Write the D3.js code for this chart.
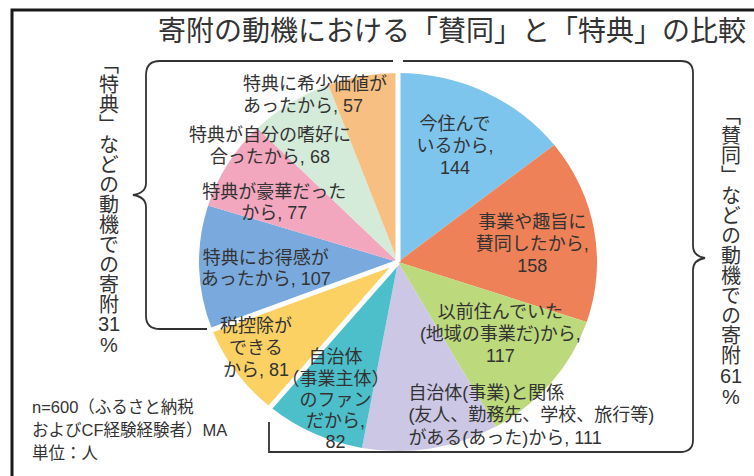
<!DOCTYPE html>
<html><head><meta charset="utf-8">
<script src="https://cdn.jsdelivr.net/npm/d3@7"></script>
<style>
html,body{margin:0;padding:0;background:#fff;}
svg{display:block;}
text{font-family:"Liberation Sans","Noto Sans CJK JP",sans-serif;fill:#333;}
</style></head>
<body>
<svg id="chart" width="754" height="476"></svg>
<script>
// ---- data ----
const categories = [
  "今住んでいるから",
  "事業や趣旨に賛同したから",
  "以前住んでいた(地域の事業だ)から",
  "自治体(事業)と関係(友人、勤務先、学校、旅行等)がある(あった)から",
  "自治体（事業主体）のファンだから",
  "税控除ができるから",
  "特典にお得感があったから",
  "特典が豪華だったから",
  "特典が自分の嗜好に合ったから",
  "特典に希少価値があったから"
];
const values = [144, 158, 117, 111, 82, 81, 107, 77, 68, 57];
const labelTemplates = [
  "今住んで|いるから,|{v}",
  "事業や趣旨に|賛同したから,|{v}",
  "以前住んでいた|(地域の事業だ)から,|{v}",
  "自治体(事業)と関係|(友人、勤務先、学校、旅行等)|がある(あった)から, {v}",
  "自治体|（事業主体）|のファン|だから,|{v}",
  "税控除が|できる|から, {v}",
  "特典にお得感が|あったから, {v}",
  "特典が豪華だった|から, {v}",
  "特典が自分の嗜好に|合ったから, {v}",
  "特典に希少価値が|あったから, {v}"
];
const colors = ["#7dc5ec","#ee8158","#bcd97c","#cbc7e4","#4dbfcb","#fcd164","#7aaadd","#f3a7bf","#d4ebda","#f7bf82"];
// group membership: 0 = 賛同, 1 = 税控除, 2 = 特典
const groups = [0,0,0,0,0,1,2,2,2,2];
const titleText = "寄附の動機における「賛同」と「特典」の比較";
const leftCaption = "「特典」などの動機での寄附";
const leftPct = ["31", "%"];
const rightCaption = "「賛同」などの動機での寄附";
const rightPct = ["61", "%"];
const noteLines = ["n=600（ふるさと納税", "およびCF経験経験者）MA", "単位：人"];

// ---- layout ----
const cx = 398, cy = 262, rx = 199, ry = 189;
const labelFrac = 0.68;
const labelNudge = [[-2,-1],[1,4],[-2,-10],[-12,26],[-5,21],[-32,11],[3,1.5],[-8,7],[-55,-8],[-131,-41.5]];
const labelAnchor = ["middle","middle","middle","start","middle","middle","middle","middle","middle","start"];
const labelLH = [22,22,22,22.5,21.3,22,21,21,22,22];
const fs = 18;

const svg = d3.select("#chart");

// frame
svg.append("rect").attr("x",12).attr("y",10).attr("width",900).attr("height",700)
  .attr("fill","none").attr("stroke","#1a1a1a").attr("stroke-width",3);

// title
svg.append("text").attr("x",158).attr("y",41).attr("font-size",28)
  .style("font-family","'Noto Sans CJK JP',sans-serif").attr("fill","#333").text(titleText);

// pie
const pie = d3.pie().sort(null).value(d => d);
const arcs = pie(values);
const arc = d3.arc().innerRadius(0).outerRadius(ry);
const g = svg.append("g").attr("transform",`translate(${cx},${cy}) scale(${rx/ry},1)`);
g.selectAll("path.slice").data(arcs).join("path").attr("class","slice")
  .attr("d",arc).attr("fill",(d,i)=>colors[i]);

// white separators between groups
const seps = [];
arcs.forEach((a,i)=>{
  const prev = groups[(i - 1 + arcs.length) % arcs.length];
  if (prev !== groups[i]) seps.push(a.startAngle);
});
g.selectAll("line.sep").data(seps).join("line").attr("class","sep")
  .attr("x1",0).attr("y1",0)
  .attr("x2",a => (ry+3)*Math.sin(a)).attr("y2",a => -(ry+3)*Math.cos(a))
  .attr("stroke","#fff").attr("stroke-width",5).attr("vector-effect","non-scaling-stroke");

// labels
arcs.forEach((a,i)=>{
  const m = (a.startAngle + a.endAngle)/2;
  const px = cx + rx*labelFrac*Math.sin(m) + labelNudge[i][0];
  const py = cy - ry*labelFrac*Math.cos(m) + labelNudge[i][1];
  const lines = labelTemplates[i].replace("{v}", values[i]).split("|");
  const lh = labelLH[i];
  const t = svg.append("text").attr("font-size",fs).attr("text-anchor",labelAnchor[i]);
  lines.forEach((ln,j)=>{
    t.append("tspan").attr("x",px)
      .attr("y", py + (j-(lines.length-1)/2)*lh + 0.36*fs).text(ln);
  });
});

// braces
const line = "#333";
svg.append("path").attr("fill","none").attr("stroke",line).attr("stroke-width",1.8)
  .attr("d","M393,61 H160 Q146,61 146,75 V183 Q146,193 133,195 Q146,197 146,207 V316 Q146,329 160,329 H207");
svg.append("path").attr("fill","none").attr("stroke",line).attr("stroke-width",1.8)
  .attr("d","M403,61 H681 Q693,61 693,73 V246 Q693,256 705,258 Q693,260 693,270 V440 Q693,452 680,452 H269 V422");

// vertical captions
function vcap(x, y0, txt, pct, yPct){
  svg.append("text").attr("x",x).attr("y",y0).attr("font-size",20)
    .style("writing-mode","vertical-rl")
    .style("font-family","'Noto Sans CJK JP',sans-serif").text(txt);
  pct.forEach((p,k)=>{
    svg.append("text").attr("x",x).attr("y",yPct[k]+7).attr("font-size",20)
      .attr("text-anchor","middle").text(p);
  });
}
vcap(109, 54, leftCaption, leftPct, [324, 345]);
vcap(731, 105, rightCaption, rightPct, [376, 397]);

// note
noteLines.forEach((s,i)=>{
  svg.append("text").attr("x",32).attr("y",413 + i*23).attr("font-size",16.5).text(s);
});
</script>
</body></html>
